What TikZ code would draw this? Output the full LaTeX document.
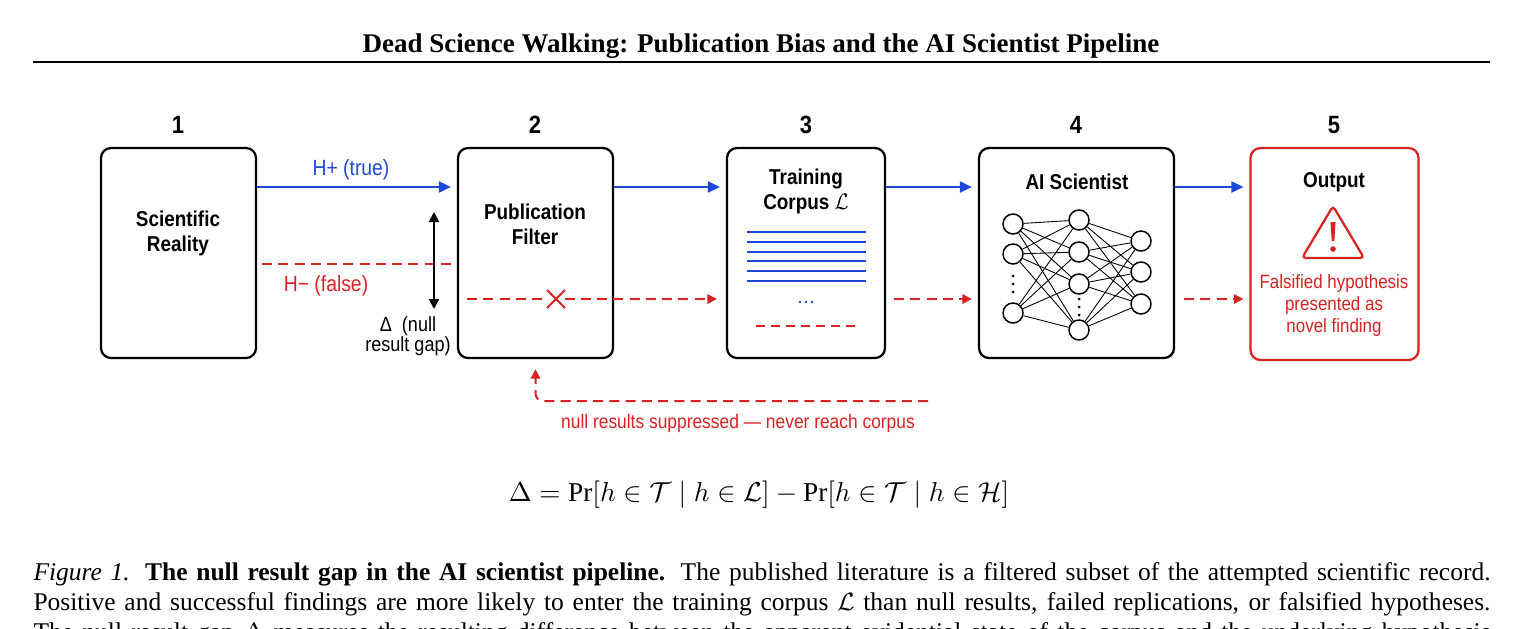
\documentclass[tikz,border=0pt]{standalone}
\usepackage{fontspec}
\setmainfont{Liberation Serif}
\setsansfont{Liberation Sans}
\usetikzlibrary{arrows.meta}
\definecolor{myblue}{RGB}{30,72,215}
\definecolor{myred}{RGB}{215,35,35}
\begin{document}
\begin{tikzpicture}[x=0.4pt,y=-0.4pt,
  sq/.style={xscale=0.88, inner sep=0pt},
  ttl/.style={sq, font=\sffamily\bfseries\fontsize{8.6}{10}\selectfont, align=center},
  num/.style={sq, font=\sffamily\bfseries\fontsize{10}{12}\selectfont},
  lbl/.style={sq, font=\sffamily\fontsize{8.8}{10}\selectfont},
  small/.style={sq, font=\sffamily\fontsize{7.7}{8.8}\selectfont, align=center},
  stagebox/.style={draw=black, line width=0.9pt, rounded corners=4pt, minimum height=84pt, inner sep=0pt},
  barrow/.style={draw=myblue, line width=0.8pt, -{Triangle[length=4.8pt,width=4.4pt]}, shorten >=2.4pt},
  rdash/.style={draw=myred, line width=0.8pt, dash pattern=on 4pt off 2.5pt},
  rarrow/.style={rdash, -{Triangle[length=3.8pt,width=3.8pt]}},
  neuron/.style={circle, draw=black, line width=0.6pt, fill=white, minimum size=8pt, inner sep=0pt},
  edge/.style={draw=black, line width=0.35pt},
  captxt/.style={inner sep=0pt, font=\fontsize{10.2}{12}\selectfont, anchor=base west}
]
\useasboundingbox (0,0) rectangle (1523,628);
\fill[white] (0,0) rectangle (1523,628);

% header
\node[inner sep=0pt, font=\bfseries\fontsize{10.8}{13}\selectfont, anchor=base] (title) at (761,52) {Dead Science Walking: Publication Bias and the AI Scientist Pipeline};
\coordinate (rl) at (33,62);
\coordinate (rr) at (1490,62);
\draw[line width=1pt] (rl) -- (rr);

% boxes
\node[stagebox, minimum width=62pt] (b1) at (178.5,253) {};
\node[stagebox, minimum width=62pt] (b2) at (535.5,253) {};
\node[stagebox, minimum width=63.2pt] (b3) at (806,253) {};
\node[stagebox, minimum width=78pt] (b4) at (1076.5,253) {};
\node[stagebox, draw=myred, minimum width=67.2pt, minimum height=84.8pt] (b5) at (1334.5,254) {};

% numbers
\node[num] (n1) at (178,125) {1};
\node[num] (n2) at (535,125) {2};
\node[num] (n3) at (806,125) {3};
\node[num] (n4) at (1076,125) {4};
\node[num] (n5) at (1334,125) {5};

% titles
\node[ttl] (t1) at (178,233) {Scientific\\Reality};
\node[ttl] (t2) at (535,224) {Publication\\Filter};
\node[ttl] (t3) at (806,191) {Training\\Corpus $\mathcal{L}$};
\node[ttl] (t4) at (1077,182) {AI Scientist};
\node[ttl] (t5) at (1334,182) {Output};

% blue arrows
\draw[barrow] (b1.east |- 0,187) -- (b2.west |- 0,187);
\draw[barrow] (b2.east |- 0,187) -- (b3.west |- 0,187);
\draw[barrow] (b3.east |- 0,187) -- (b4.west |- 0,187);
\draw[barrow] (b4.east |- 0,187) -- (b5.west |- 0,187);
\node[lbl, text=myblue] (hp) at (351,170) {H+ (true)};

% H- line
\coordinate (hm1) at (262,264);
\coordinate (hm2) at (451,264);
\draw[rdash] (hm1) -- (hm2);
\node[lbl, text=myred] (hm) at (326,286) {H− (false)};

% gap arrow
\coordinate (g1) at (434,212);
\coordinate (g2) at (434,309);
\draw[line width=0.8pt, {Triangle[length=4pt,width=4pt]}-{Triangle[length=4pt,width=4pt]}] (g1) -- (g2);
\node[sq, font=\sffamily\fontsize{8.2}{8}\selectfont, align=center] (gl) at (408,336) {Δ~ (null\\result gap)};

% red dashed flow
\coordinate (r0) at (467,299);
\draw[rarrow, shorten >=3.6pt] (r0) -- (b3.west |- 0,299);
\draw[rarrow, shorten >=2.4pt] ([xshift=3.2pt]b3.east |- 0,299) -- (b4.west |- 0,299);
\draw[rarrow, shorten >=2.4pt] ([xshift=3.6pt]b4.east |- 0,299) -- (b5.west |- 0,299);
\fill[white] (548,291) rectangle (564,307);
\coordinate (x1) at (547,290);
\coordinate (x2) at (565,308);
\coordinate (x3) at (547,308);
\coordinate (x4) at (565,290);
\draw[myred, line width=0.8pt] (x1) -- (x2) (x3) -- (x4);

% corpus lines
\foreach \yy in {232,242,251.5,261,271,280.7}
  \draw[myblue, line width=0.8pt] (747,\yy) -- (866,\yy);
\foreach \xx in {800,806,812}
  \fill[myblue] (\xx,302) circle (1.4);
\draw[rdash, dash pattern=on 3.6pt off 2.4pt] (756,326) -- (858,326);

% neural network
\foreach \i/\yy in {1/224,2/254,3/313} \node[neuron] (a\i) at (1013,\yy) {};
\foreach \j/\yy in {1/220,2/252,3/284,4/330} \node[neuron] (m\j) at (1079,\yy) {};
\foreach \k/\yy in {1/241,2/272,3/304} \node[neuron] (o\k) at (1141,\yy) {};
\foreach \i in {1,2,3} \foreach \j in {1,2,3,4} \draw[edge] (a\i) -- (m\j);
\foreach \j in {1,2,3,4} \foreach \k in {1,2,3} \draw[edge] (m\j) -- (o\k);
\foreach \yy in {276,284,292} \fill (1013,\yy) circle (1.5);
\foreach \yy in {299,307,315} \fill (1079,\yy) circle (1.5);

% warning
\draw[myred, line width=0.9pt, rounded corners=1.5pt] (1333,206) -- (1364,258) -- (1302,258) -- cycle;
\fill[myred] (1330.5,222) -- (1335.5,222) -- (1334.3,241) -- (1331.7,241) -- cycle;
\fill[myred] (1333,249) circle (2.8);
\node[small, text=myred] (ot) at (1334,306) {Falsified hypothesis\\presented as\\novel finding};

% feedback
\coordinate (fb) at (928,401);
\draw[rarrow, rounded corners=3pt, shorten >=4pt] (fb) -| (b2.south);
\node[lbl, text=myred, font=\sffamily\fontsize{7.9}{9}\selectfont] (fbl) at (738,423) {null results suppressed — never reach corpus};

% formula
\node[inner sep=0pt, font=\fontsize{10.9}{13}\selectfont] (eq) at (759,495) {$\Delta = \Pr[h \in \mathcal{T} \mid h \in \mathcal{L}] - \Pr[h \in \mathcal{T} \mid h \in \mathcal{H}]$};

% caption
\begin{scope}
\clip (0,0) rectangle (1523,628);
\node[captxt] (c1) at (33,580) {\makebox[582.8pt][s]{\textit{Figure 1.} \textbf{The null result gap in the AI scientist pipeline.} The published literature is a filtered subset of the attempted scientific record.}};
\node[captxt] (c2) at (33,610) {\makebox[582.8pt][s]{Positive and successful findings are more likely to enter the training corpus $\mathcal{L}$ than null results, failed replications, or falsified hypotheses.}};
\node[captxt] (c3) at (33,640) {\makebox[582.8pt][s]{The null result gap $\Delta$ measures the resulting difference between the apparent evidential state of the corpus and the underlying hypothesis}};
\end{scope}
\end{tikzpicture}
\end{document}
